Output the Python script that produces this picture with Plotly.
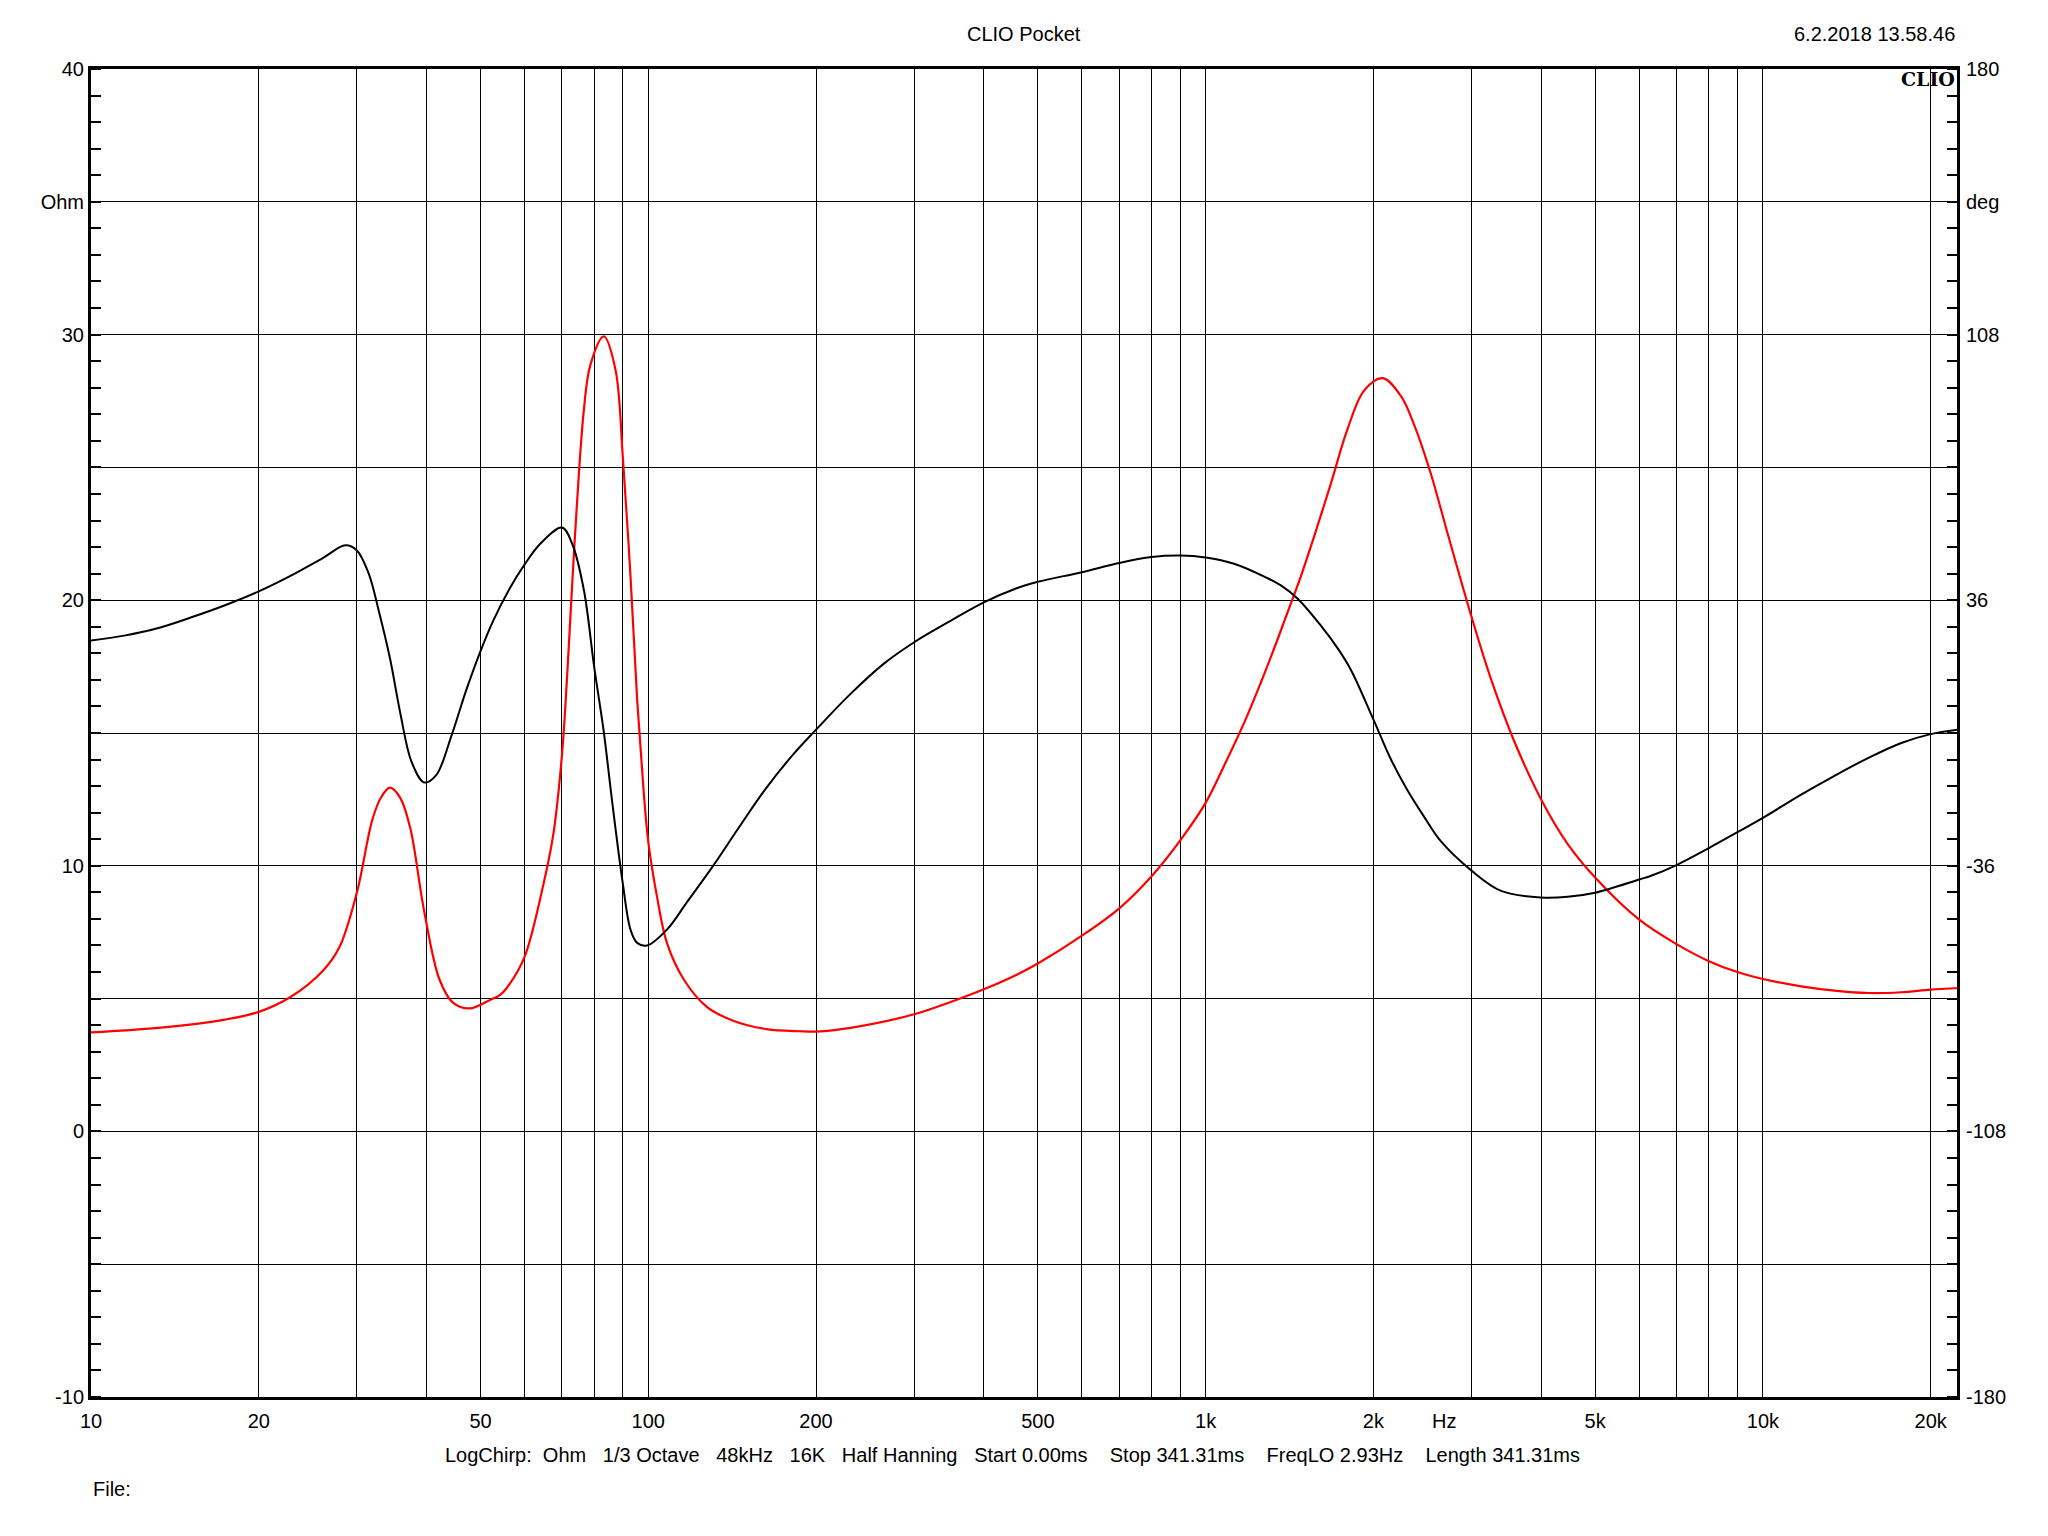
import math
import plotly.graph_objects as go

# ---- data ----
freq_imp = [10, 13.2, 17.3, 20, 22.8, 26.1, 27.9, 30, 32, 33.2, 34.4, 35.9, 37.4, 39.6, 42.2, 44.6, 47.8, 51.9,
            54.3, 56.4, 60, 64.9, 67.6, 70, 71.5, 73, 74.5, 76.6, 78.7, 83.2, 87.3, 90, 92.9, 95.5,
            98.1, 100, 103.7, 108, 115.8, 127.5, 142.4, 163, 187.5, 200, 230.6, 300, 348.7, 400,
            459.3, 500, 600, 700, 800, 900, 1000, 1080, 1173, 1257, 1346, 1422, 1483, 1566, 1679,
            1798, 1926, 2078, 2242, 2368, 2537, 2719, 3000, 3252, 3581, 4000, 4465, 5000, 6000,
            7000, 8000, 9000, 10000, 11712, 13442, 15437, 17717, 20000, 22300]
imp_ohm = [3.73, 3.9, 4.2, 4.5, 5.06, 6.06, 6.93, 9.0, 11.76, 12.6, 12.94, 12.55, 11.42, 8.31, 5.72, 4.85, 4.63, 4.94,
           5.15, 5.55, 6.58, 9.34, 11.24, 14.18, 17.12, 20.57, 23.68, 27.13, 28.85, 29.93, 28.69, 25.4, 20.92, 16.25,
           12.8, 10.9, 8.82, 7.1, 5.72, 4.68, 4.16, 3.85, 3.77, 3.76, 3.9, 4.41, 4.87, 5.35,
           5.91, 6.32, 7.37, 8.4, 9.61, 10.95, 12.37, 13.78, 15.39, 16.91, 18.52, 19.87, 20.91, 22.4, 24.41,
           26.45, 27.9, 28.36, 27.68, 26.59, 24.75, 22.5, 19.38, 17.03, 14.68, 12.5, 10.82, 9.56, 7.97,
           7.05, 6.41, 6.0, 5.74, 5.46, 5.3, 5.21, 5.24, 5.34, 5.39]

freq_phase = [10, 11.47, 13.16, 15.1, 17.3, 20, 22.8, 26.1, 28.6, 30, 31.5, 32.9, 34.4, 35.9, 37.6, 39.6,
              41.6, 44.3, 47.1, 49.7, 52.6, 56.4, 60, 64, 70, 73, 76.6, 80, 83.2, 86.1, 90, 92.9, 95.5,
              99.5, 108, 117.5, 131, 146, 163, 182, 200, 230.6, 264.7, 300, 348.7, 400, 459.3, 500,
              600, 700, 800, 900, 1000, 1125, 1291, 1365, 1463, 1610, 1725, 1823, 2000, 2150, 2304,
              2469, 2645, 3000, 3390, 4000, 4465, 5000, 6000, 6303, 7000, 8000, 9000, 10000, 11712,
              13442, 15437, 17717, 20000, 22300]
phase_deg = [25.1, 26.4, 28.4, 31.3, 34.5, 38.4, 42.6, 47.5, 50.9, 49.5, 43.2, 32.6, 20.2, 5.3, -7.8, -13.4,
             -11.5, -0.9, 11.5, 21.2, 30.2, 39.2, 45.7, 51.3, 55.7, 51.3, 38.9, 17.7, 0.3, -18.4, -40.8, -53.3, -56.9,
             -57.6, -53.3, -45.7, -35.8, -25.2, -14.8, -5.8, 0.9, 10.6, 18.8, 24.6, 30.4, 35.4, 39.3, 41.0,
             43.6, 46.1, 47.7, 48.1, 47.6, 45.9, 42.0, 40.0, 36.4, 29.1, 23.0, 17.1, 3.7, -7.1, -15.6,
             -22.8, -29.4, -37.3, -42.8, -44.6, -44.4, -43.3, -39.7, -38.7, -35.8, -31.2, -26.9, -23.0, -16.7,
             -11.6, -6.8, -2.7, -0.3, 0.9]

x_grid = [10, 20, 30, 40, 50, 60, 70, 80, 90, 100, 200, 300, 400, 500, 600, 700, 800, 900,
          1000, 2000, 3000, 4000, 5000, 6000, 7000, 8000, 9000, 10000, 20000]
x_labels = {10: "10", 20: "20", 50: "50", 100: "100", 200: "200", 500: "500", 1000: "1k",
            2000: "2k", 5000: "5k", 10000: "10k", 20000: "20k"}
y_left_vals = [-10, -5, 0, 5, 10, 15, 20, 25, 30, 35, 40]
y_left_text = ["-10", "", "0", "", "10", "", "20", "", "30", "Ohm", "40"]
y_right_vals = [-180, -144, -108, -72, -36, 0, 36, 72, 108, 144, 180]
y_right_text = ["-180", "", "-108", "", "-36", "", "36", "", "108", "deg", "180"]

x_max = 22300
info_text = ("LogChirp:  Ohm   1/3 Octave   48kHz   16K   Half Hanning   Start 0.00ms    "
             "Stop 341.31ms    FreqLO 2.93Hz    Length 341.31ms")

FONT = "Liberation Sans, Arial, sans-serif"
OFF = 8  # page body margin
W, H = 2048 - 2 * OFF, 1536 - 2 * OFF
# plot area in screenshot coordinates: x 91..1957, y 69..1397
ML = 91 - OFF
MT = 69 - OFF
MR = W - (1957 - OFF)
MB = H - (1397 - OFF)
PH = H - MT - MB
PW = W - ML - MR


def py(Y):
    """screenshot y pixel -> paper coordinate"""
    return ((H - MB) - (Y - OFF)) / PH


def px(X):
    """screenshot x pixel -> paper coordinate"""
    return ((X - OFF) - ML) / PW


fig = go.Figure()
fig.add_trace(go.Scatter(x=freq_imp, y=imp_ohm, mode="lines",
                         line=dict(color="#ff0000", width=2.2, shape="spline", smoothing=1.0),
                         yaxis="y", showlegend=False, hoverinfo="skip"))
fig.add_trace(go.Scatter(x=freq_phase, y=phase_deg, mode="lines",
                         line=dict(color="#000000", width=2, shape="spline", smoothing=1.0),
                         yaxis="y2", showlegend=False, hoverinfo="skip"))

fig.update_layout(
    width=W, height=H, autosize=False,
    paper_bgcolor="white", plot_bgcolor="white",
    margin=dict(l=ML, r=MR, t=MT, b=MB, pad=0),
    font=dict(family=FONT, size=20, color="black"),
    xaxis=dict(type="log", range=[1, math.log10(x_max)],
               tickmode="array", tickvals=x_grid,
               ticktext=[x_labels.get(v, "") for v in x_grid],
               showgrid=True, gridcolor="black", gridwidth=1.2,
               showline=True, linecolor="black", linewidth=3, mirror=True,
               ticks="", zeroline=False, ticklabelstandoff=4,
               tickfont=dict(family=FONT, size=20, color="black")),
    yaxis=dict(range=[-10, 40], tickmode="array", tickvals=y_left_vals, ticktext=y_left_text,
               showgrid=True, gridcolor="black", gridwidth=1.2,
               showline=True, linecolor="black", linewidth=3,
               ticks="", zeroline=False, ticklabelstandoff=0,
               minor=dict(tick0=0, dtick=1, ticks="inside", ticklen=10, tickwidth=1.5,
                          tickcolor="black", showgrid=False),
               tickfont=dict(family=FONT, size=20, color="black")),
    yaxis2=dict(range=[-180, 180], overlaying="y", side="right",
                tickmode="array", tickvals=y_right_vals, ticktext=y_right_text,
                showgrid=False, showline=True, linecolor="black", linewidth=3,
                ticks="", zeroline=False, ticklabelstandoff=2,
                minor=dict(tick0=-180, dtick=7.2, ticks="inside", ticklen=10, tickwidth=1.5,
                           tickcolor="black", showgrid=False),
                tickfont=dict(family=FONT, size=20, color="black")),
)

annos = [
    dict(text="CLIO Pocket", x=px(1024), y=py(34), xref="paper", yref="paper",
         xanchor="center", yanchor="middle", showarrow=False, font=dict(size=20)),
    dict(text="6.2.2018 13.58.46", x=px(1957), y=py(34), xref="paper", yref="paper",
         xanchor="right", yanchor="middle", showarrow=False, font=dict(size=20)),
    dict(text="<b>CLIO</b>", x=px(1957), y=py(79), xref="paper", yref="paper",
         xanchor="right", yanchor="middle", showarrow=False,
         font=dict(family="DejaVu Serif, Liberation Serif, serif", size=19, color="black")),
    dict(text="Hz", x=math.log10(2680), y=py(1421), xref="x", yref="paper",
         xanchor="center", yanchor="middle", showarrow=False, font=dict(size=20)),
    dict(text=info_text.replace(" ", "\u00a0"), x=px(1012), y=py(1455), xref="paper", yref="paper",
         xanchor="center", yanchor="middle", showarrow=False, font=dict(size=20)),
    dict(text="File:", x=px(91), y=py(1489), xref="paper", yref="paper",
         xanchor="left", yanchor="middle", showarrow=False, font=dict(size=20)),
]
fig.update_layout(annotations=annos)

fig.write_html("out.html")
